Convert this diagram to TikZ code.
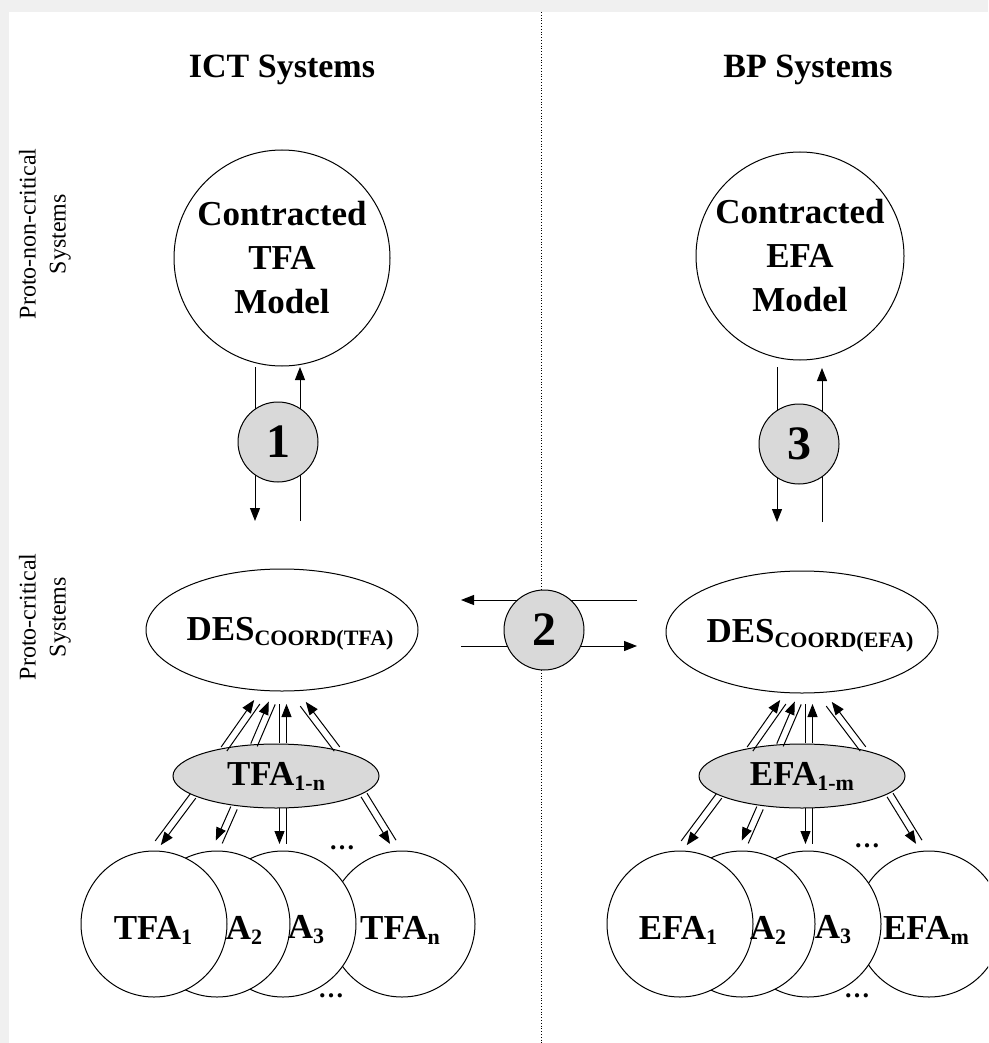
\documentclass[tikz,border=0pt]{standalone}
\usepackage{fontspec}
\setmainfont{Liberation Serif}
\usetikzlibrary{arrows.meta,calc,shapes.geometric}
\definecolor{gr}{HTML}{D9D9D9}
\definecolor{bggray}{HTML}{F0F0F0}
\newcommand\sbx[1]{{\fontsize{22}{22}\selectfont\raisebox{-5pt}{#1}}}
\newcommand\dbl[4]{%
 \draw[arr] ($(#1)!3.5pt!#3:(#2)$) -- ($(#2)!3.5pt!#4:(#1)$);
 \draw[conn] ($(#1)!3.5pt!#4:(#2)$) -- ($(#2)!3.5pt!#3:(#1)$);}
\begin{document}
\begin{tikzpicture}[x=1pt,y=-1pt,
  conn/.style={line width=1pt},
  arr/.style={line width=1pt,-{Triangle[length=13pt,width=10pt]}},
  title/.style={font=\bfseries\fontsize{34}{40}\selectfont},
  bigc/.style={circle,draw,line width=1pt,inner sep=0pt,align=center,font=\bfseries\fontsize{35}{44}\selectfont},
  numc/.style={circle,draw,line width=1pt,fill=gr,minimum size=80pt,inner sep=0pt,font=\bfseries\fontsize{48}{48}\selectfont},
  desel/.style={ellipse,draw,line width=1pt,minimum width=272pt,minimum height=122pt,inner sep=0pt},
  faell/.style={ellipse,draw,line width=1pt,fill=gr,minimum width=206pt,minimum height=64pt,inner sep=0pt,font=\bfseries\fontsize{35}{35}\selectfont},
  smc/.style={circle,draw,line width=1pt,fill=white,minimum size=146pt,inner sep=0pt},
  lab/.style={font=\bfseries\fontsize{35}{35}\selectfont,inner sep=0pt},
  dots/.style={font=\bfseries\fontsize{26}{26}\selectfont,inner sep=0pt},
  side/.style={rotate=90,align=center,font=\fontsize{24}{30}\selectfont,inner sep=0pt}]
\useasboundingbox (0,0) rectangle (988,1043);
\clip (0,0) rectangle (988,1043);
\fill[bggray] (0,0) rectangle (988,1043);
\fill[white] (9,12) rectangle (988,1043);
\coordinate (divtop) at (541,12);
\coordinate (divbot) at (541,1043);
\draw[dotted,line width=0.8pt] (divtop) -- (divbot);

% titles and side labels
\node[title] (t1) at (282,70) {ICT Systems};
\node[title] (t2) at (808,70) {BP Systems};
\node[side] (s1) at (45,234) {Proto-non-critical\\Systems};
\node[side] (s2) at (45,617) {Proto-critical\\Systems};

% top models
\node[bigc,minimum size=216pt] (mT) at (282,258) {Contracted\\TFA\\Model};
\node[bigc,minimum size=208pt] (mE) at (800,256) {Contracted\\EFA\\Model};

% DES ellipses
\node[desel] (dT) at (282,630) {};
\node[desel] (dE) at (802,632) {};
\node[lab] (dTl) at (290,634) {DES\sbx{COORD(TFA)}};
\node[lab] (dEl) at (810,636) {DES\sbx{COORD(EFA)}};

% vertical / horizontal arrow pairs
\coordinate (a1) at (255,367); \coordinate (b1) at (255,521);
\coordinate (c1) at (300,521); \coordinate (d1) at (300,367);
\draw[arr] (a1) -- (b1);
\draw[arr] (c1) -- (d1);
\coordinate (a3) at (777,367); \coordinate (b3) at (777,522);
\coordinate (c3) at (822,522); \coordinate (d3) at (822,368);
\draw[arr] (a3) -- (b3);
\draw[arr] (c3) -- (d3);
\coordinate (a2) at (637,600); \coordinate (b2) at (461,600);
\coordinate (c2) at (461,646); \coordinate (d2) at (637,646);
\draw[arr] (a2) -- (b2);
\draw[arr] (c2) -- (d2);
\node[numc] (n1) at (278,442) {1};
\node[numc] (n2) at (544,630) {2};
\node[numc] (n3) at (799,444) {3};

% FA ellipses
\node[faell] (fT) at (276,776) {TFA\sbx{1-n}};
\node[faell] (fE) at (802,776) {EFA\sbx{1-m}};

% double arrows
\foreach \cx/\s in {276/L,802/R}{
  \coordinate (uAs\s) at ({\cx-52},749); \coordinate (uAe\s) at ({\cx-19},702);
  \coordinate (uBs\s) at ({\cx-22},745); \coordinate (uBe\s) at ({\cx-4},703);
  \coordinate (uCs\s) at ({\cx+7},743);  \coordinate (uCe\s) at ({\cx+7},704);
  \coordinate (uDs\s) at ({\cx+61},749); \coordinate (uDe\s) at ({\cx+27},704);
  \coordinate (lEs\s) at ({\cx-83},796); \coordinate (lEe\s) at ({\cx-118},843);
  \coordinate (lFs\s) at ({\cx-42},808); \coordinate (lFe\s) at ({\cx-57},842);
  \coordinate (lGs\s) at ({\cx+7},808);  \coordinate (lGe\s) at ({\cx+7},844);
  \coordinate (lHs\s) at ({\cx+88},795); \coordinate (lHe\s) at ({\cx+117},842);
  \dbl{uAs\s}{uAe\s}{90}{-90}
  \dbl{uBs\s}{uBe\s}{90}{-90}
  \dbl{uCs\s}{uCe\s}{-90}{90}
  \dbl{uDs\s}{uDe\s}{-90}{90}
  \dbl{lEs\s}{lEe\s}{90}{-90}
  \dbl{lFs\s}{lFe\s}{-90}{90}
  \dbl{lGs\s}{lGe\s}{-90}{90}
  \dbl{lHs\s}{lHe\s}{-90}{90}
}

% bottom circles, left
\node[smc] (cTn) at (402,924) {};
\node[smc] (cT3) at (283,924) {};
\node[smc] (cT2) at (217,924) {};
\node[smc] (cT1) at (154,924) {};
\node[lab] (lT1) at (153,930) {TFA\sbx{1}};
\node[lab] (lT2) at (244,930) {A\sbx{2}};
\node[lab] (lT3) at (306,930) {A\sbx{3}};
\node[lab] (lTn) at (400,930) {TFA\sbx{n}};
\node[dots] (dTt) at (342,848) {…};
\node[dots] (dTb) at (331,996) {…};

% bottom circles, right
\node[smc] (cEm) at (929,924) {};
\node[smc] (cE3) at (808,924) {};
\node[smc] (cE2) at (742,924) {};
\node[smc] (cE1) at (680,924) {};
\node[lab] (lE1) at (678,930) {EFA\sbx{1}};
\node[lab] (lE2) at (768,930) {A\sbx{2}};
\node[lab] (lE3) at (833,930) {A\sbx{3}};
\node[lab] (lEm) at (926,930) {EFA\sbx{m}};
\node[dots] (dEt) at (867,846) {…};
\node[dots] (dEb) at (857,996) {…};
\end{tikzpicture}
\end{document}
